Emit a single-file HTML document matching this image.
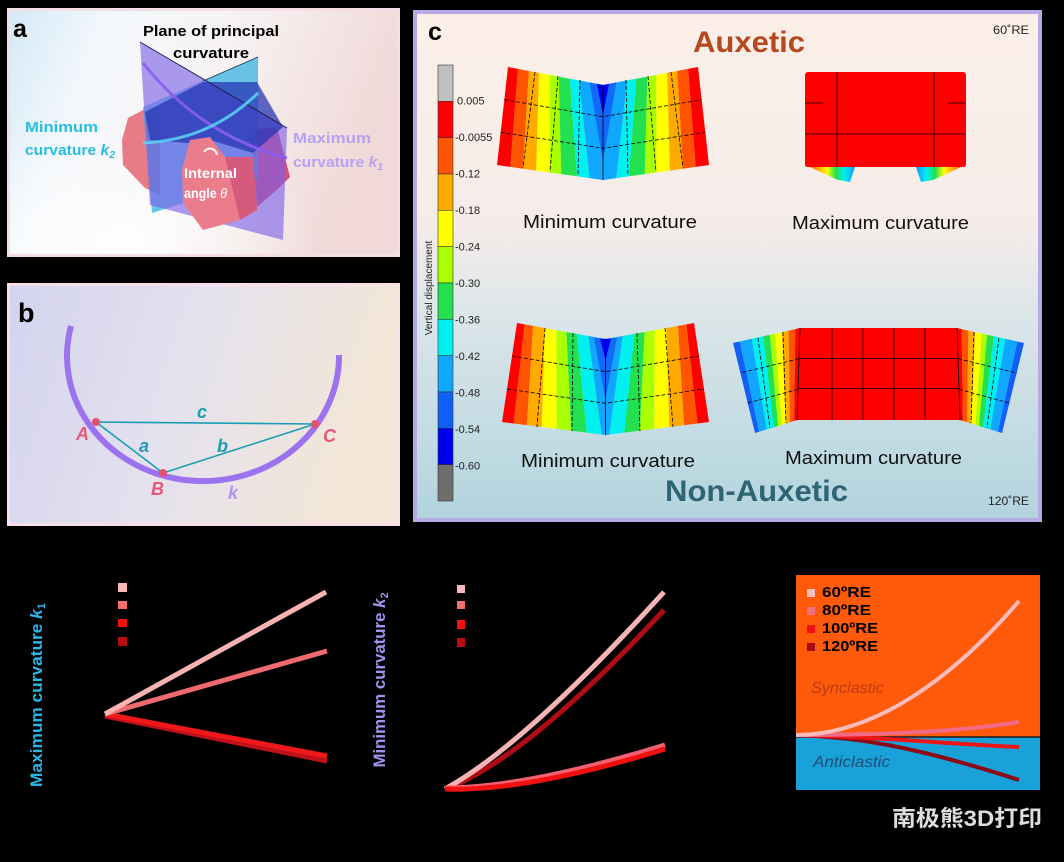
<!DOCTYPE html>
<html><head><meta charset="utf-8"><style>
html,body{margin:0;padding:0;background:#000;width:1064px;height:862px;overflow:hidden}
svg{display:block}
text{font-family:"Liberation Sans","Noto Sans CJK SC",sans-serif}
</style></head><body>
<svg width="1064" height="862" viewBox="0 0 1064 862" xmlns="http://www.w3.org/2000/svg">
<defs>
<linearGradient id="ga" x1="0" y1="0" x2="1" y2="0.25">
<stop offset="0" stop-color="#d4e9f8"/><stop offset="0.25" stop-color="#f4f8fc"/><stop offset="0.55" stop-color="#f7f3f3"/><stop offset="1" stop-color="#f0d9d8"/></linearGradient>
<radialGradient id="gaw" cx="0.3" cy="0.95" r="0.5"><stop offset="0" stop-color="#fff" stop-opacity="0.9"/><stop offset="1" stop-color="#fff" stop-opacity="0"/></radialGradient>
<linearGradient id="gb" x1="0" y1="0" x2="1" y2="0.2">
<stop offset="0" stop-color="#d3d3ee"/><stop offset="0.5" stop-color="#e4e2ee"/><stop offset="1" stop-color="#f3e6d6"/></linearGradient>
<linearGradient id="gc" x1="0" y1="0" x2="0" y2="1">
<stop offset="0" stop-color="#fcefe8"/><stop offset="0.42" stop-color="#f5ece9"/><stop offset="0.62" stop-color="#d9e5e9"/><stop offset="1" stop-color="#b2d4de"/></linearGradient>
<linearGradient id="wl" gradientUnits="userSpaceOnUse" x1="810" y1="0" x2="853" y2="0">
<stop offset="0" stop-color="#ff5500"/><stop offset="0.2" stop-color="#ffaa00"/><stop offset="0.4" stop-color="#ffff00"/><stop offset="0.6" stop-color="#22e050"/><stop offset="0.8" stop-color="#00f0f0"/><stop offset="1" stop-color="#10a8ff"/></linearGradient>
<linearGradient id="wr" gradientUnits="userSpaceOnUse" x1="961" y1="0" x2="918" y2="0">
<stop offset="0" stop-color="#ff5500"/><stop offset="0.2" stop-color="#ffaa00"/><stop offset="0.4" stop-color="#ffff00"/><stop offset="0.6" stop-color="#22e050"/><stop offset="0.8" stop-color="#00f0f0"/><stop offset="1" stop-color="#10a8ff"/></linearGradient>
</defs>
<rect width="1064" height="862" fill="#000"/>

<!-- ===== Panel a ===== -->
<rect x="7" y="8" width="393" height="249" fill="#f5dde6"/>
<rect x="10" y="11" width="387" height="243" fill="url(#ga)"/>
<rect x="10" y="11" width="387" height="243" fill="url(#gaw)"/>
<!-- object behind planes -->
<polygon points="128,118 143,110 160,118 160,195 145,188 123,165 122,140" fill="#e77c86"/>
<polygon points="250,130 277,127 290,177 280,187 257,207 253,157" fill="#d8507a"/>
<!-- planes -->
<polygon points="143,107 258,57 258,180 152,213" fill="#2fb0e0" fill-opacity="0.72"/>
<polygon points="140,42 287,128 283,240 150,205" fill="#7a60e6" fill-opacity="0.62"/>
<polygon points="145,112 203,82 257,82 283,127 253,153 210,140 187,143 150,140" fill="#2836b4" fill-opacity="0.75"/>
<line x1="140" y1="42" x2="287" y2="128" stroke="#1c1c50" stroke-width="1"/>
<line x1="203" y1="81" x2="258" y2="57" stroke="#1c3050" stroke-width="0.8"/>
<!-- arcs -->
<path d="M143,63 Q200,135 287,158" fill="none" stroke="#8a5ef0" stroke-width="3" stroke-opacity="0.9"/>
<path d="M143,143 Q210,140 258,93" fill="none" stroke="#5ad4f4" stroke-width="3" stroke-opacity="0.85"/>
<!-- front pink block -->
<polygon points="190,140 210,137 225,157 253,157 257,210 240,220 203,230 183,203 182,170" fill="#ea7c8c"/>
<polygon points="225,157 253,157 257,210 240,220" fill="#d65a7e"/>
<path d="M204,152 A7,7 0 0 1 217,155" fill="none" stroke="#fff" stroke-width="2"/>
<!-- texts a -->
<text x="13" y="37" font-size="25" font-weight="900" fill="#000">a</text>
<text x="143" y="36" font-size="15" font-weight="bold" fill="#000" textLength="136" lengthAdjust="spacingAndGlyphs">Plane of principal</text>
<text x="173" y="58" font-size="15" font-weight="bold" fill="#000" textLength="76" lengthAdjust="spacingAndGlyphs">curvature</text>
<text x="25" y="132" font-size="15" font-weight="bold" fill="#27bee3" textLength="73" lengthAdjust="spacingAndGlyphs">Minimum</text>
<text x="25" y="155" font-size="15" font-weight="bold" fill="#27bee3" textLength="90" lengthAdjust="spacingAndGlyphs">curvature <tspan font-style="italic">k</tspan><tspan font-size="10" dy="3" font-style="italic">2</tspan></text>
<text x="293" y="143" font-size="15" font-weight="bold" fill="#b7a2f2" textLength="78" lengthAdjust="spacingAndGlyphs">Maximum</text>
<text x="293" y="167" font-size="15" font-weight="bold" fill="#b7a2f2" textLength="90" lengthAdjust="spacingAndGlyphs">curvature <tspan font-style="italic">k</tspan><tspan font-size="10" dy="3" font-style="italic">1</tspan></text>
<text x="184" y="178" font-size="14" font-weight="bold" fill="#fff" textLength="53" lengthAdjust="spacingAndGlyphs">Internal</text>
<text x="184" y="198" font-size="14" font-weight="bold" fill="#fff" textLength="43" lengthAdjust="spacingAndGlyphs">angle <tspan font-style="italic" font-weight="normal">θ</tspan></text>

<!-- ===== Panel b ===== -->
<rect x="7" y="283" width="393" height="243" fill="#f6dfe6"/>
<rect x="10" y="286" width="387" height="237" fill="url(#gb)"/>
<path d="M71,326 A136,125 0 1 0 339,355" fill="none" stroke="#9d72ee" stroke-width="6"/>
<g stroke="#1a9cb4" stroke-width="1.6" fill="none">
<line x1="96" y1="422" x2="315" y2="424"/>
<line x1="96" y1="422" x2="163" y2="473"/>
<line x1="163" y1="473" x2="315" y2="424"/>
</g>
<circle cx="96" cy="422" r="4" fill="#e4506e"/>
<circle cx="163" cy="473" r="4" fill="#e4506e"/>
<circle cx="315" cy="424" r="4" fill="#e4506e"/>
<text x="18" y="322" font-size="27" font-weight="900" fill="#000">b</text>
<g font-style="italic" font-weight="bold" font-size="18">
<text x="197" y="418" fill="#1a9cb4">c</text>
<text x="139" y="452" fill="#1a9cb4">a</text>
<text x="217" y="452" fill="#1a9cb4">b</text>
<text x="76" y="440" fill="#e4587a">A</text>
<text x="151" y="495" fill="#e4587a">B</text>
<text x="323" y="442" fill="#e4587a">C</text>
<text x="228" y="499" fill="#b592f2">k</text>
</g>

<!-- ===== Panel c ===== -->
<rect x="413" y="10" width="629" height="512" fill="#b8a8e4"/>
<rect x="417" y="14" width="621" height="504" fill="url(#gc)"/>
<text x="428" y="40" font-size="25" font-weight="900" fill="#000">c</text>
<text x="693" y="52" font-size="30" font-weight="bold" fill="#b5481c" textLength="112" lengthAdjust="spacingAndGlyphs">Auxetic</text>
<text x="665" y="501" font-size="30" font-weight="bold" fill="#2f6474" textLength="183" lengthAdjust="spacingAndGlyphs">Non-Auxetic</text>
<text x="993" y="34" font-size="12" fill="#222" textLength="36" lengthAdjust="spacingAndGlyphs">60˚RE</text>
<text x="988" y="505" font-size="12" fill="#222" textLength="41" lengthAdjust="spacingAndGlyphs">120˚RE</text>

<!-- colorbar -->
<g stroke="#333" stroke-width="0.6">
<rect x="438" y="65" width="15" height="36.3" fill="#c0c0c0"/>
<rect x="438" y="101.3" width="15" height="36.4" fill="#ff0000"/>
<rect x="438" y="137.7" width="15" height="36.3" fill="#ff5500"/>
<rect x="438" y="174" width="15" height="36.3" fill="#ffaa00"/>
<rect x="438" y="210.3" width="15" height="36.4" fill="#ffff00"/>
<rect x="438" y="246.7" width="15" height="36.3" fill="#aaff00"/>
<rect x="438" y="283" width="15" height="36.3" fill="#22e050"/>
<rect x="438" y="319.3" width="15" height="36.4" fill="#00f0f0"/>
<rect x="438" y="355.7" width="15" height="36.3" fill="#10a8ff"/>
<rect x="438" y="392" width="15" height="36.3" fill="#1060f8"/>
<rect x="438" y="428.3" width="15" height="36.4" fill="#0000f0"/>
<rect x="438" y="464.7" width="15" height="36.3" fill="#6e6e6e"/>
</g>
<g font-size="11" fill="#222">
<text x="457" y="104.5">0.005</text>
<text x="455" y="141">-0.0055</text>
<text x="455" y="177.5">-0.12</text>
<text x="455" y="214">-0.18</text>
<text x="455" y="250.5">-0.24</text>
<text x="455" y="287">-0.30</text>
<text x="455" y="323.5">-0.36</text>
<text x="455" y="360">-0.42</text>
<text x="455" y="396.5">-0.48</text>
<text x="455" y="433">-0.54</text>
<text x="455" y="469.5">-0.60</text>
</g>
<text transform="translate(432,288) rotate(-90)" text-anchor="middle" font-size="10" fill="#222">Vertical displacement</text>

<!-- top-left FEA (auxetic, min) -->
<g>
<polygon points="508,67 518,68.9 510.4,166.9 497,165" fill="#ff0000"/>
<polygon points="518,68.9 528.9,71 523,168.7 510.4,166.9" fill="#ff5500"/>
<polygon points="528.9,71 539,72.9 536.2,170.6 523,168.7" fill="#ffaa00"/>
<polygon points="539,72.9 549.8,74.9 549.7,172.5 536.2,170.6" fill="#ffff00"/>
<polygon points="549.8,74.9 558.6,76.6 561.3,174.1 549.7,172.5" fill="#aaff00"/>
<polygon points="558.6,76.6 569.8,78.7 577,176.3 561.3,174.1" fill="#22e050"/>
<polygon points="569.8,78.7 579,80.4 589.6,178.1 577,176.3" fill="#00f0f0"/>
<polygon points="579,80.4 603,85 603,180 589.6,178.1" fill="#10a8ff"/>
<polygon points="698,67 688,68.9 695.6,166.9 709,165" fill="#ff0000"/>
<polygon points="688,68.9 677.1,71 683,168.7 695.6,166.9" fill="#ff5500"/>
<polygon points="677.1,71 667,72.9 669.8,170.6 683,168.7" fill="#ffaa00"/>
<polygon points="667,72.9 656.2,74.9 656.3,172.5 669.8,170.6" fill="#ffff00"/>
<polygon points="656.2,74.9 647.4,76.6 644.7,174.1 656.3,172.5" fill="#aaff00"/>
<polygon points="647.4,76.6 636.2,78.7 629,176.3 644.7,174.1" fill="#22e050"/>
<polygon points="636.2,78.7 627,80.4 616.4,178.1 629,176.3" fill="#00f0f0"/>
<polygon points="627,80.4 603,85 603,180 616.4,178.1" fill="#10a8ff"/>
<polygon points="589.7,82.5 603,85 616.3,82.5 603,162" fill="#1268f8"/>
<polygon points="597,84 603,85 609,84 603,115" fill="#0000f0"/>
<g stroke="#000" stroke-width="0.8" fill="none" stroke-dasharray="4,2">
<polyline points="504.3,99.7 603,116.7 701.7,99.7"/>
<polyline points="500.7,132.3 603,148.3 705.3,132.3"/>
<line x1="535" y1="72" x2="523" y2="168"/>
<line x1="558" y1="76" x2="550" y2="172"/>
<line x1="580" y1="80" x2="578" y2="176"/>
<line x1="626" y1="80" x2="628" y2="176"/>
<line x1="648" y1="76" x2="656" y2="172"/>
<line x1="671" y1="72" x2="683" y2="168"/>
</g>
<line x1="603" y1="85" x2="603" y2="180" stroke="#000" stroke-width="0.8"/>
</g>
<text x="523" y="228" font-size="18" fill="#111" textLength="174" lengthAdjust="spacingAndGlyphs">Minimum curvature</text>

<!-- top-right FEA (auxetic, max) -->
<g>
<polygon points="805,163 812,167 805,167" fill="#b0b0b0"/>
<polygon points="966,163 959,167 966,167" fill="#b0b0b0"/>
<polygon points="810,167 855,167 850,182 838,180" fill="url(#wl)"/>
<polygon points="961,167 916,167 921,182 933,180" fill="url(#wr)"/>
<rect x="805" y="72" width="161" height="95" rx="3" fill="#ff0000"/>
<g stroke="#000" stroke-width="0.8">
<line x1="837" y1="72" x2="837" y2="167"/>
<line x1="934" y1="72" x2="934" y2="167"/>
<line x1="805" y1="134" x2="966" y2="134"/>
<line x1="805" y1="103" x2="823" y2="103"/>
<line x1="948" y1="103" x2="966" y2="103"/>
</g>
</g>
<text x="792" y="229" font-size="18" fill="#111" textLength="177" lengthAdjust="spacingAndGlyphs">Maximum curvature</text>

<!-- bottom-left FEA (non-auxetic, min) -->
<g>
<polygon points="517,323 524.7,324.4 513.6,423.5 502,422" fill="#ff0000"/>
<polygon points="524.7,324.4 533.1,325.9 527,425.1 513.6,423.5" fill="#ff5500"/>
<polygon points="533.1,325.9 544.8,328.1 541.8,427 527,425.1" fill="#ffaa00"/>
<polygon points="544.8,328.1 556.5,330.2 556.8,428.9 541.8,427" fill="#ffff00"/>
<polygon points="556.5,330.2 566.5,332 571.2,430.6 556.8,428.9" fill="#aaff00"/>
<polygon points="566.5,332 576.6,333.8 586.8,432.6 571.2,430.6" fill="#22e050"/>
<polygon points="576.6,333.8 588.3,336 601.6,434.5 586.8,432.6" fill="#00f0f0"/>
<polygon points="588.3,336 605.5,339 605.5,435 601.6,434.5" fill="#10a8ff"/>
<polygon points="694,323 686.3,324.4 697.4,423.5 709,422" fill="#ff0000"/>
<polygon points="686.3,324.4 677.9,325.9 684,425.1 697.4,423.5" fill="#ff5500"/>
<polygon points="677.9,325.9 666.2,328.1 669.2,427 684,425.1" fill="#ffaa00"/>
<polygon points="666.2,328.1 654.5,330.2 654.2,428.9 669.2,427" fill="#ffff00"/>
<polygon points="654.5,330.2 644.5,332 639.8,430.6 654.2,428.9" fill="#aaff00"/>
<polygon points="644.5,332 634.4,333.8 624.2,432.6 639.8,430.6" fill="#22e050"/>
<polygon points="634.4,333.8 622.7,336 609.4,434.5 624.2,432.6" fill="#00f0f0"/>
<polygon points="622.7,336 605.5,339 605.5,435 609.4,434.5" fill="#10a8ff"/>
<polygon points="594,337.5 605.5,339 617,337.5 605.5,400" fill="#1268f8"/>
<polygon points="600,338.5 605.5,339 611,338.5 605.5,360" fill="#0000f0"/>
<g stroke="#000" stroke-width="0.8" fill="none" stroke-dasharray="4,2">
<polyline points="512,356 605.5,371.7 699,356"/>
<polyline points="507,389 605.5,403.3 704,389"/>
<line x1="545" y1="328" x2="537" y2="427"/>
<line x1="573" y1="333" x2="572" y2="431"/>
<line x1="637" y1="333" x2="640" y2="431"/>
<line x1="665" y1="328" x2="673" y2="427"/>
</g>
<line x1="605.5" y1="339" x2="605.5" y2="435" stroke="#000" stroke-width="0.8"/>
</g>
<text x="521" y="467" font-size="18" fill="#111" textLength="174" lengthAdjust="spacingAndGlyphs">Minimum curvature</text>

<!-- bottom-right FEA (non-auxetic, max) -->
<g>
<polygon points="733,343 739.7,341.5 759.2,431.7 755,433" fill="#1060f8"/>
<polygon points="739.7,341.5 751.8,338.8 766.8,429.4 759.2,431.7" fill="#10a8ff"/>
<polygon points="751.8,338.8 763.2,336.3 773.9,427.2 766.8,429.4" fill="#00f0f0"/>
<polygon points="763.2,336.3 769.9,334.8 778.1,425.9 773.9,427.2" fill="#22e050"/>
<polygon points="769.9,334.8 775.2,333.6 781.5,424.8 778.1,425.9" fill="#aaff00"/>
<polygon points="775.2,333.6 781.9,332.1 785.7,423.5 781.5,424.8" fill="#ffff00"/>
<polygon points="781.9,332.1 788.6,330.6 789.9,422.2 785.7,423.5" fill="#ffaa00"/>
<polygon points="788.6,330.6 795.3,329.1 794.1,420.9 789.9,422.2" fill="#ff5500"/>
<polygon points="795.3,329.1 800,328 797,420 794.1,420.9" fill="#ff0000"/>
<polygon points="1024,343 1017.3,341.5 997.8,431.7 1002,433" fill="#1060f8"/>
<polygon points="1017.3,341.5 1005.2,338.8 990.2,429.4 997.8,431.7" fill="#10a8ff"/>
<polygon points="1005.2,338.8 993.8,336.3 983.1,427.2 990.2,429.4" fill="#00f0f0"/>
<polygon points="993.8,336.3 987.1,334.8 978.9,425.9 983.1,427.2" fill="#22e050"/>
<polygon points="987.1,334.8 981.8,333.6 975.5,424.8 978.9,425.9" fill="#aaff00"/>
<polygon points="981.8,333.6 975.1,332.1 971.3,423.5 975.5,424.8" fill="#ffff00"/>
<polygon points="975.1,332.1 968.4,330.6 967.1,422.2 971.3,423.5" fill="#ffaa00"/>
<polygon points="968.4,330.6 961.7,329.1 962.9,420.9 967.1,422.2" fill="#ff5500"/>
<polygon points="961.7,329.1 957,328 960,420 962.9,420.9" fill="#ff0000"/>
<polygon points="800,328 957,328 960,420 797,420" fill="#ff0000"/>
<g stroke="#000" stroke-width="0.8">
<line x1="832" y1="328" x2="832" y2="420"/>
<line x1="863" y1="328" x2="863" y2="420"/>
<line x1="894" y1="328" x2="894" y2="420"/>
<line x1="925" y1="328" x2="925" y2="420"/>
<line x1="799" y1="358.5" x2="958" y2="358.5"/>
<line x1="798" y1="388.5" x2="959" y2="388.5"/>
<line x1="800" y1="328" x2="797" y2="420"/>
<line x1="957" y1="328" x2="960" y2="420"/>
</g>
<g stroke="#000" stroke-width="0.8" stroke-dasharray="4,2" fill="none">
<line x1="799" y1="358.7" x2="740.3" y2="373"/>
<line x1="798" y1="389.3" x2="747.7" y2="403"/>
<line x1="958" y1="358.7" x2="1016.7" y2="373"/>
<line x1="959" y1="389.3" x2="1009.3" y2="403"/>
<line x1="758" y1="338" x2="770" y2="428"/>
<line x1="783" y1="332" x2="786" y2="423"/>
<line x1="999" y1="338" x2="987" y2="428"/>
<line x1="974" y1="332" x2="971" y2="423"/>
</g>
</g>
<text x="785" y="464" font-size="18" fill="#111" textLength="177" lengthAdjust="spacingAndGlyphs">Maximum curvature</text>

<!-- ===== Bottom left chart ===== -->
<text transform="translate(42,695) rotate(-90)" text-anchor="middle" font-size="17" font-weight="bold" fill="#29b6e8" textLength="184" lengthAdjust="spacingAndGlyphs">Maximum curvature <tspan font-style="italic">k</tspan><tspan font-size="11" dy="3">1</tspan></text>
<rect x="118" y="583" width="9" height="9" fill="#f9b8b8"/>
<rect x="118" y="601" width="9" height="8" fill="#f46f70"/>
<rect x="118" y="619" width="9" height="8" fill="#f41010"/>
<rect x="118" y="637" width="9" height="9" fill="#b80c10"/>
<line x1="105" y1="716" x2="327" y2="761" stroke="#c0101a" stroke-width="5"/>
<line x1="105" y1="714" x2="327" y2="756" stroke="#f01818" stroke-width="5"/>
<line x1="105" y1="714" x2="327" y2="651" stroke="#ef6a70" stroke-width="5"/>
<line x1="105" y1="714" x2="326" y2="592" stroke="#f7b2b2" stroke-width="5"/>

<!-- ===== Bottom middle chart ===== -->
<text transform="translate(385,680) rotate(-90)" text-anchor="middle" font-size="17" font-weight="bold" fill="#a690f0" textLength="175" lengthAdjust="spacingAndGlyphs">Minimum curvature  <tspan font-style="italic">k</tspan><tspan font-size="11" dy="3">2</tspan></text>
<rect x="457" y="585" width="8" height="8" fill="#f9b8b8"/>
<rect x="457" y="601" width="8" height="8" fill="#f46f70"/>
<rect x="457" y="620" width="8" height="9" fill="#f41010"/>
<rect x="457" y="638" width="8" height="9" fill="#b80c10"/>
<path d="M445,789 Q525,760 664,610" fill="none" stroke="#b00c14" stroke-width="5"/>
<path d="M445,789 Q525,745 664,592" fill="none" stroke="#f7b4b4" stroke-width="5"/>
<path d="M445,788 Q525,788 665,745" fill="none" stroke="#f06070" stroke-width="5"/>
<path d="M445,789 Q525,792 665,749" fill="none" stroke="#f01010" stroke-width="5"/>

<!-- ===== Bottom right chart ===== -->
<rect x="796" y="575" width="244" height="162" fill="#ff5a0a"/>
<rect x="796" y="737" width="244" height="53" fill="#19a2da"/>
<line x1="796" y1="737" x2="1040" y2="737" stroke="#1a1a1a" stroke-width="1.5"/>
<text x="811" y="693" font-size="16" font-style="italic" fill="#bc3c14" textLength="73" lengthAdjust="spacingAndGlyphs">Synclastic</text>
<text x="813" y="767" font-size="16" font-style="italic" fill="#1f4c74" textLength="77" lengthAdjust="spacingAndGlyphs">Anticlastic</text>
<rect x="807" y="589" width="8" height="8" fill="#f9c0c0"/>
<rect x="807" y="607" width="8" height="8" fill="#f07080"/>
<rect x="807" y="625" width="8" height="8" fill="#f01010"/>
<rect x="807" y="643" width="8" height="8" fill="#a80a10"/>
<g font-size="15" font-weight="bold" fill="#000">
<text x="822" y="597" textLength="49" lengthAdjust="spacingAndGlyphs">60ºRE</text>
<text x="822" y="615" textLength="49" lengthAdjust="spacingAndGlyphs">80ºRE</text>
<text x="822" y="633" textLength="56" lengthAdjust="spacingAndGlyphs">100ºRE</text>
<text x="822" y="651" textLength="56" lengthAdjust="spacingAndGlyphs">120ºRE</text>
</g>
<path d="M796,735 C860,737 920,748 1019,780" fill="none" stroke="#8a0a18" stroke-width="4"/>
<path d="M796,735 C880,737 950,744 1019,747" fill="none" stroke="#ee1515" stroke-width="4"/>
<path d="M796,735 C880,735 960,732 1019,722" fill="none" stroke="#f26a86" stroke-width="4"/>
<path d="M796,735 C880,735 960,670 1019,601" fill="none" stroke="#f8baba" stroke-width="4"/>

<text x="892" y="826" font-size="22" font-weight="bold" fill="#dedede" textLength="150" lengthAdjust="spacingAndGlyphs">南极熊3D打印</text>
</svg>
</body></html>
